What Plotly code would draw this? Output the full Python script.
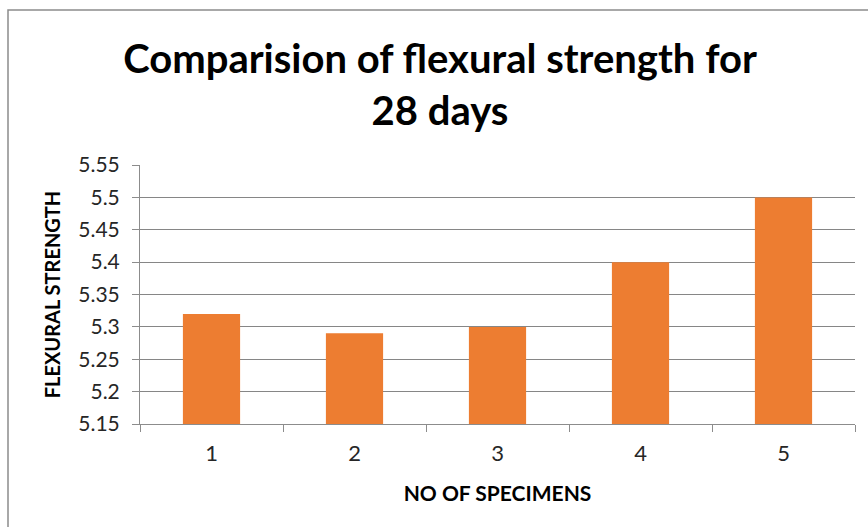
import plotly.graph_objects as go

categories = ["1", "2", "3", "4", "5"]
strength = [5.32, 5.29, 5.30, 5.40, 5.50]
y_ticks = [5.15, 5.2, 5.25, 5.3, 5.35, 5.4, 5.45, 5.5, 5.55]
y_tick_labels = ["5.15", "5.2", "5.25", "5.3", "5.35", "5.4", "5.45", "5.5", "5.55"]

W, H = 868, 527
L, R, T, B = 140, 13, 165, 103
pw, ph = W - L - R, H - T - B

fig = go.Figure(go.Bar(x=categories, y=strength, marker=dict(color="#ED7D31", line=dict(width=0))))

fig.update_layout(
    width=W, height=H,
    margin=dict(l=L, r=R, t=T, b=B, autoexpand=False),
    paper_bgcolor="white", plot_bgcolor="white",
    font=dict(family="Lato", color="#262626"),
    bargap=0.6,
    showlegend=False,
    title=dict(text="<b>Comparision of flexural strength for<br>28 days</b>",
               x=440 / W, xanchor="center", y=1 - 73 / H, yanchor="middle",
               font=dict(family="Lato", size=40, color="black")),
)
fig.update_xaxes(
    type="category", showline=True, linecolor="#8c8c8c", linewidth=1,
    ticks="outside", tickson="boundaries", ticklen=7, tickcolor="#8c8c8c",
    ticklabelstandoff=10,
    tickfont=dict(size=22, color="#262626"), showgrid=False,
    title=dict(text="<b>NO OF SPECIMENS</b>", font=dict(size=21, color="black"), standoff=20),
)
fig.update_yaxes(
    range=[5.15, 5.55], tickvals=y_ticks, ticktext=y_tick_labels,
    showline=True, linecolor="#8c8c8c", linewidth=1,
    ticks="outside", ticklen=7, tickcolor="#8c8c8c", ticklabelstandoff=8,
    showgrid=True, gridcolor="#868686", gridwidth=1, zeroline=False,
    tickfont=dict(size=21, color="#262626"),
    title=dict(text="<b>FLEXURAL STRENGTH</b>", font=dict(size=20, color="black"), standoff=12),
)
# outer chart border (left and top visible)
fig.add_shape(type="rect", xref="paper", yref="paper",
              x0=(8 - L) / pw, x1=(W + 20 - L) / pw,
              y0=-(H + 20 - T - ph) / ph, y1=1 + (T - 10) / ph,
              line=dict(color="#8c8c8c", width=1.5), fillcolor="rgba(0,0,0,0)", layer="below")

fig.write_html("out.html", config={"displayModeBar": False},
               post_script="document.body.style.margin='0';document.body.style.overflow='hidden';")
